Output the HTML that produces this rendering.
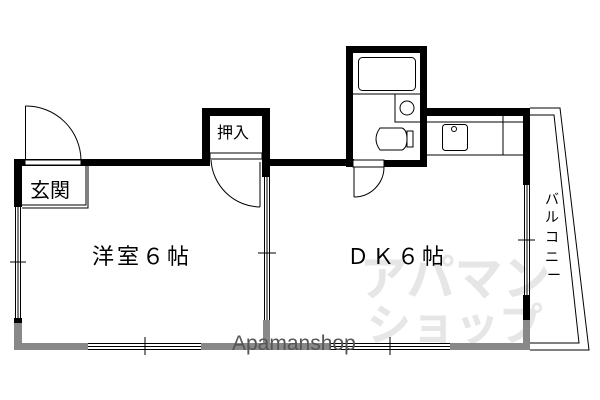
<!DOCTYPE html>
<html><head><meta charset="utf-8"><style>
html,body{margin:0;padding:0;background:#fff;width:600px;height:400px;overflow:hidden}
</style></head><body>
<svg width="600" height="400" viewBox="0 0 600 400" xmlns="http://www.w3.org/2000/svg">
<text x="455" y="295" font-family="Liberation Sans, Noto Sans CJK JP, sans-serif" font-size="48" font-weight="bold" fill="#e6e6e6" text-anchor="middle">アパマン</text>
<text x="455" y="340" font-family="Liberation Sans, Noto Sans CJK JP, sans-serif" font-size="44" font-weight="bold" fill="#e6e6e6" text-anchor="middle">ショップ</text>
<path d="M530 108 L560 108 L589 350 L530 350" fill="none" stroke="#000"/>
<path d="M530 115 L554 115 L579 343 L530 343" fill="none" stroke="#000"/>
<g fill="#000">
<rect x="14" y="159" width="190" height="7"/>
<rect x="14" y="159" width="8" height="48"/>
<rect x="202" y="108" width="68" height="8"/>
<rect x="202" y="108" width="8" height="58"/>
<rect x="262" y="108" width="8" height="69"/>
<rect x="262" y="159" width="92" height="7"/>
<rect x="346" y="46" width="81" height="7"/>
<rect x="346" y="46" width="7" height="121"/>
<rect x="420" y="46" width="7" height="121"/>
<rect x="346" y="160" width="81" height="7"/>
<rect x="420" y="108" width="110" height="8"/>
<rect x="523" y="108" width="7" height="77"/>
<rect x="523" y="295" width="7" height="25"/>
<rect x="14" y="318" width="8" height="5"/>
</g>
<g fill="#888">
<rect x="14" y="323" width="8" height="27"/>
<rect x="14" y="343" width="74" height="7"/>
<rect x="201" y="343" width="129" height="7"/>
<rect x="450" y="343" width="80" height="7"/>
<rect x="523" y="320" width="7" height="30"/>
<rect x="263" y="320" width="7" height="23"/>
</g>
<g stroke="#000" stroke-width="1" fill="none">
<rect x="25" y="160" width="56" height="5" fill="#fff"/>
<rect x="210" y="153" width="52" height="6" fill="#fff"/>
<rect x="353" y="160" width="31" height="7" fill="#fff"/>
<path d="M25.5 106 L25.5 160 M25.5 106 A55 55 0 0 1 81 160"/>
<path d="M260 207 L260 162 M260 207 A50 50 0 0 1 211 160"/>
<path d="M354 197 L354 167 M354 197 A30 30 0 0 0 384 167"/>
<path d="M22 205 L86 205 L86 166 M22 208 L88 208 L88 166"/>
<path d="M15.5 207 V318 M18 207 V318 M20.5 207 V318 M10 262 H26"/>
<path d="M264.5 177 V320 M267 177 V320 M269.5 177 V320 M258 253 H276"/>
<path d="M524.5 185 V295 M527 185 V295 M529.5 185 V295 M518 240 H535"/>
<path d="M88 343.5 H201 M88 346.5 H201 M88 349.5 H201 M145 337 V355"/>
<path d="M330 343.5 H450 M330 346.5 H450 M330 349.5 H450 M390 337 V355"/>
<rect x="358.5" y="57.5" width="57" height="33" rx="4"/>
<path d="M353 94 H420 M395 94 V122 H420"/>
<circle cx="407" cy="108" r="7"/>
<path d="M380 128 Q372 139 380 150 L402 150 Q407 148 407 139 Q407 130 402 128 Z"/>
<rect x="407" y="131" width="6" height="16"/>
<path d="M427 122 H523 M427 155 H523 M503 116 V155"/>
<rect x="442.5" y="124.5" width="25" height="26" rx="3"/>
<circle cx="454" cy="129" r="2.5"/>
</g>
<g font-family="Liberation Sans, Noto Sans CJK JP, sans-serif" fill="#000">
<text x="30" y="197" font-size="20">玄関</text>
<text x="217" y="138" font-size="16">押入</text>
<text x="92" y="264" font-size="22" letter-spacing="3">洋室６帖</text>
<text x="347" y="264" font-size="22" letter-spacing="3">ＤＫ６帖</text>
<text x="232" y="350" font-size="21" fill="#555">Apamanshop</text>
<g font-size="14">
<text x="545" y="204">バ</text><text x="545" y="222">ル</text><text x="545" y="242">コ</text><text x="545" y="262">ニ</text><text x="547" y="280">ー</text>
</g>
</g>
</svg>
</body></html>
